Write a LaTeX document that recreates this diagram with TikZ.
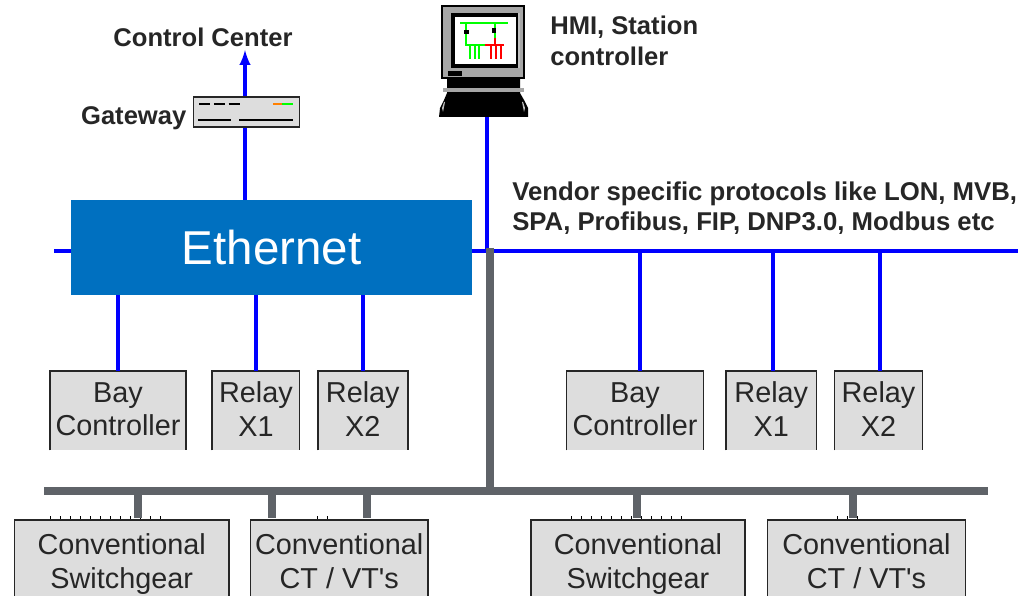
\documentclass[tikz,border=0pt]{standalone}
\usepackage{fontspec}
\usetikzlibrary{positioning}
\setmainfont{Liberation Sans}
\definecolor{ethblue}{HTML}{0070C0}
\definecolor{busgray}{HTML}{5F6368}
\definecolor{boxgray}{HTML}{DDDDDD}
\tikzset{
	bluewire/.style={draw=blue,line width=2.6pt},
	graywire/.style={draw=busgray,line width=5.4pt},
	devbox/.style={fill=boxgray,inner sep=0pt,align=center,text=black!85,font=\fontsize{20.5}{24}\selectfont},
	bayrow/.style={devbox,minimum height=1.975cm,text depth=2.1pt},
	convrow/.style={devbox,minimum height=2.05cm,text depth=0pt},
	boxedge/.style={draw=black!85,line width=1.2pt},
	caption/.style={inner sep=0pt,align=left,text=black!85,font=\bfseries\fontsize{18.2}{22.4}\selectfont},
	pixline/.style={line width=1.2pt},
	stubs/.style={line width=1.5pt,dash pattern=on 1pt off 6.1pt},
}
\begin{document}
\begin{tikzpicture}[x=0.025cm,y=-0.025cm]
	\clip (0,0) rectangle (1018,596);
	\fill[white] (0,0) rectangle (1018,596);
	% blue network
	\coordinate (ccend) at (245,50);
	\coordinate (busl) at (54,251);
	\coordinate (busr) at (1018,251);
	\coordinate (hmitap) at (487,251);
	\coordinate (tapa) at (640,251);
	\coordinate (tapb) at (773,251);
	\coordinate (tapc) at (880,251);
	\draw[bluewire] (busl) -- (busr);
	% devices
	\node[bayrow,minimum width=3.39cm] (bayl) at (118,410.5) {Bay\\Controller};
	\node[bayrow,minimum width=2.165cm] (xal) at (255.9,410.5) {Relay\\X1};
	\node[bayrow,minimum width=2.23cm] (xbl) at (362.8,410.5) {Relay\\X2};
	\node[bayrow,minimum width=3.41cm] (bayr) at (635,410.5) {Bay\\Controller};
	\node[bayrow,minimum width=2.24cm] (xar) at (771.3,410.5) {Relay\\X1};
	\node[bayrow,minimum width=2.18cm] (xbr) at (878.5,410.5) {Relay\\X2};
	\node[convrow,minimum width=5.34cm] (swl) at (121.7,561) {Conventional\\Switchgear};
	\node[convrow,minimum width=4.415cm] (ctl) at (339.2,561) {Conventional\\CT / VT\textquotesingle s};
	\node[convrow,minimum width=5.32cm] (swr) at (638,561) {Conventional\\Switchgear};
	\node[convrow,minimum width=4.94cm] (ctr) at (866.5,561) {Conventional\\CT / VT\textquotesingle s};
	\foreach \b in {bayl,xal,xbl,bayr,xar,xbr,swl,ctl,swr,ctr}
		\draw[boxedge] (\b.south west) -- (\b.north west) -- (\b.north east) -- (\b.south east);
	\node[fill=ethblue,text=white,inner sep=0pt,minimum width=10.025cm,minimum height=2.375cm,font=\fontsize{33.8}{40}\selectfont] (eth) at (271.5,247.5) {Ethernet};
	% gateway
	\node[draw=black!85,fill=boxgray,line width=1.2pt,inner sep=0pt,minimum width=2.65cm,minimum height=0.74cm] (gate) at (246.5,112) {};
	\draw[pixline,dash pattern=on 8pt off 2.5pt] (199,104) -- (241,104);
	\draw[pixline,orange] (273,104) -- (282,104);
	\draw[pixline,green] (282,104) -- (293,104);
	\draw[pixline] (198,120) -- (231,120);
	\draw[pixline] (239,120) -- (293,120);
	% hmi
	\fill[black] (439,117) -- (440,108) -- (444,100) -- (447,93) -- (447,78) -- (520,78) -- (520,93) -- (524,100) -- (528,108) -- (528,117) -- cycle;
	\fill[gray!70] (443,88) rectangle (524,92);
	\fill[gray!50] (442,108) -- (444,102) -- (445,102) -- (443,112) -- cycle;
	\fill[gray!50] (525,108) -- (523,102) -- (522,102) -- (524,112) -- cycle;
	\filldraw[fill=gray!70,draw=black,line width=0.8pt] (442,6) rectangle (524,78);
	\fill[black] (451,13) rectangle (520,68);
	\fill[gray!50] (518,13) rectangle (520,68);
	\node[fill=white,inner sep=0pt,minimum width=1.525cm,minimum height=1.175cm] (hmi) at (485.5,40.5) {};
	\fill[black] (448,71) rectangle (462,76);
	\draw[green,line width=1.4pt] (460,23) -- (508,23);
	\draw[green,line width=1.4pt] (466,23) -- (466,45) -- (485,45);
	\draw[green,line width=1.4pt] (495,23) -- (495,38);
	\draw[red,line width=1.4pt] (495,38) -- (495,45);
	\draw[red,line width=1.4pt] (485,45) -- (504,45);
	\foreach \t in {470,475,479}
		\draw[green,line width=1pt] (\t,45) -- (\t,59);
	\foreach \t in {491,496,501}
		\draw[red,line width=1pt] (\t,45) -- (\t,59);
	\fill[black] (464,30) rectangle (469,34);
	\fill[black] (492,28) rectangle (496,33);
	\coordinate (hmibase) at (487,117);
	% blue connectors
	\draw[bluewire,-latex] (gate.north -| ccend) -- (ccend);
	\draw[bluewire] (eth.north -| ccend) -- (gate.south -| ccend);
	\draw[bluewire] (hmibase) -- (hmitap);
	\draw[bluewire] (bayl.north) -- (eth.south -| bayl.north);
	\draw[bluewire] (xal.north) -- (eth.south -| xal.north);
	\draw[bluewire] (xbl.north) -- (eth.south -| xbl.north);
	\draw[bluewire] (tapa) -- (tapa |- bayr.north);
	\draw[bluewire] (tapb) -- (tapb |- xar.north);
	\draw[bluewire] (tapc) -- (tapc |- xbr.north);
	% dotted stubs above the boxes
	\draw[stubs] (50,517.5) -- (162,517.5);
	\draw[stubs] (317,517.5) -- (336,517.5);
	\draw[stubs] (571,517.5) -- (685,517.5);
	\draw[stubs] (837,517.5) -- (858,517.5);
	% gray bus
	\coordinate (grayl) at (44,491);
	\coordinate (grayr) at (988,491);
	\coordinate (graytop) at (490,248);
	\coordinate (graytap) at (490,491);
	\coordinate (dropa) at (138,491);
	\coordinate (dropb) at (272,491);
	\coordinate (dropc) at (367,491);
	\coordinate (dropd) at (637,491);
	\coordinate (drope) at (853,491);
	\draw[graywire] (grayl) -- (grayr);
	\draw[graywire] (graytop) -- (graytap);
	\draw[graywire,shorten >=1.4pt] (dropa) -- (dropa |- swl.north);
	\draw[graywire,shorten >=1.4pt] (dropb) -- (dropb |- ctl.north);
	\draw[graywire,shorten >=1.4pt] (dropc) -- (dropc |- ctl.north);
	\draw[graywire,shorten >=1.4pt] (dropd) -- (dropd |- swr.north);
	\draw[graywire,shorten >=1.4pt] (drope) -- (drope |- ctr.north);
	% labels
	\node[caption] (cclabel) at (203,37) {Control Center};
	\node[caption,left=0.15cm of gate.west,yshift=-0.15cm] (gatelabel) {Gateway};
	\node[caption,anchor=west] (hmilabel) at (550,41) {HMI, Station\\controller};
	\node[caption,anchor=west,font=\bfseries\fontsize{18.3}{21}\selectfont] (protolabel) at (512,208) {Vendor specific protocols like LON, MVB,\\SPA, Profibus, FIP, DNP3.0, Modbus etc};
\end{tikzpicture}
\end{document}
